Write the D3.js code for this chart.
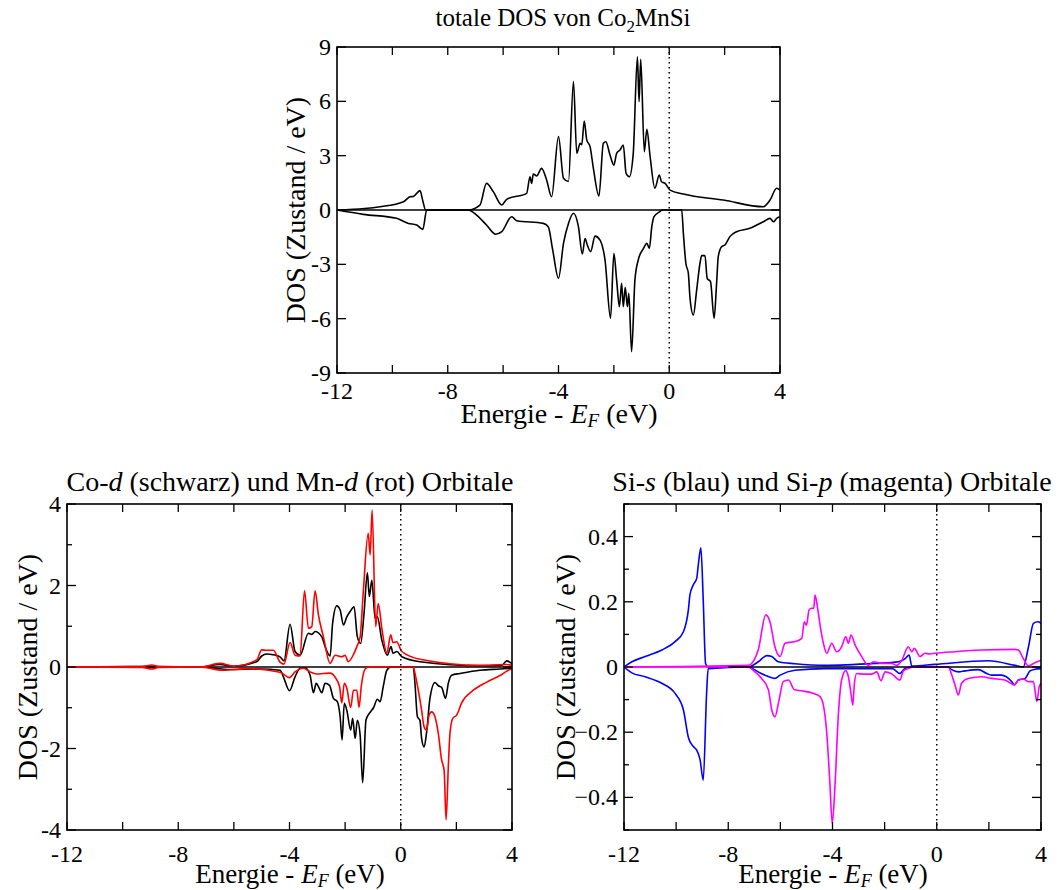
<!DOCTYPE html>
<html><head><meta charset="utf-8">
<script src="https://cdn.jsdelivr.net/npm/d3@7"></script>
<style>
body{margin:0;background:#fff;}
svg text{font-family:"Liberation Serif","Times New Roman",serif;fill:#000;}
</style></head>
<body><svg id="c" width="1063" height="890"></svg>
<script>
// ---------- DATA (energy in eV, DOS in states/eV) ----------
const totalUp = [[-12,0],[-11,0.08],[-10.45,0.18],[-9.6,0.46],[-9.36,0.73],[-9.24,0.75],[-9.0,1.07],[-8.9,0.5],[-8.8,0],[-7.26,0],[-6.84,0.27],[-6.6,1.47],[-6.35,1.0],[-6.05,0.28],[-5.87,0.59],[-5.15,0.92],[-5.03,1.84],[-4.97,1.47],[-4.91,1.99],[-4.79,1.88],[-4.61,2.3],[-4.43,1.66],[-4.25,0.73],[-4.0,4.05],[-3.82,1.75],[-3.64,1.57],[-3.46,7.09],[-3.34,3.13],[-3.22,3.68],[-3.16,3.6],[-3.07,4.91],[-2.98,3.87],[-2.86,3.5],[-2.74,2.3],[-2.54,0.77],[-2.38,3.68],[-2.29,3.77],[-2.14,3.04],[-2.0,2.48],[-1.9,3.13],[-1.78,3.31],[-1.66,3.59],[-1.56,2.03],[-1.44,1.84],[-1.3,3.13],[-1.15,8.46],[-1.09,5.98],[-1.03,8.32],[-0.9,3.22],[-0.81,4.46],[-0.69,2.94],[-0.52,1.2],[-0.36,1.93],[-0.28,1.56],[-0.15,1.47],[0.03,1.1],[0.51,0.88],[1.95,0.55],[3.4,0.18],[3.64,0.55],[3.88,1.2],[4.0,1.1]];
const totalDn = [[-12,0],[-11.05,-0.24],[-9.85,-0.46],[-9.42,-0.74],[-9.12,-0.83],[-8.9,-1.07],[-8.76,0],[-7.26,0],[-6.96,-0.28],[-6.6,-0.83],[-6.27,-1.34],[-6.05,-1.2],[-5.69,-0.37],[-5.51,-0.59],[-4.55,-0.74],[-4.37,-0.92],[-4.21,-2.2],[-4.0,-3.77],[-3.82,-1.84],[-3.64,-0.74],[-3.46,-0.18],[-3.28,-0.92],[-3.14,-2.43],[-3.04,-1.57],[-2.96,-1.93],[-2.84,-2.3],[-2.68,-1.44],[-2.5,-1.66],[-2.32,-2.76],[-2.12,-5.98],[-2.0,-2.39],[-1.9,-3.87],[-1.8,-5.34],[-1.72,-4.05],[-1.66,-5.34],[-1.59,-4.27],[-1.51,-5.34],[-1.46,-4.6],[-1.36,-7.82],[-1.24,-3.87],[-1.12,-2.76],[-0.93,-2.12],[-0.81,-1.84],[-0.72,-2.12],[-0.63,-0.92],[-0.55,-0.37],[-0.34,-0.09],[-0.25,0],[0.45,0],[0.51,-1.29],[0.6,-2.94],[0.69,-3.5],[0.75,-4.87],[0.87,-5.8],[0.99,-4.42],[1.11,-2.94],[1.17,-2.52],[1.29,-2.52],[1.37,-3.77],[1.49,-3.96],[1.62,-5.98],[1.71,-4.05],[1.77,-2.58],[1.89,-2.03],[2.01,-1.93],[2.19,-1.47],[2.43,-1.2],[2.91,-1.01],[3.16,-0.83],[3.4,-0.65],[3.64,-0.46],[3.76,-0.65],[3.88,-0.46],[4.0,-0.37]];

const coDUp = [[-12,0],[-9.0,0.01],[-7.2,0],[-6.5,0.06],[-6.02,0.02],[-5.18,0.13],[-5.0,0.27],[-4.82,0.32],[-4.58,0.3],[-4.34,0.25],[-4.2,0.15],[-3.98,1.05],[-3.8,0.38],[-3.62,0.29],[-3.32,0.83],[-3.2,0.8],[-3.08,0.87],[-2.84,0.74],[-2.72,0.5],[-2.54,0.27],[-2.45,1.07],[-2.3,1.5],[-2.18,1.4],[-2.06,1.03],[-1.94,1.23],[-1.82,1.36],[-1.68,1.48],[-1.56,0.74],[-1.44,0.58],[-1.32,1.32],[-1.2,2.31],[-1.13,1.73],[-1.04,2.13],[-0.92,1.19],[-0.84,1.23],[-0.68,0.66],[-0.48,0.29],[-0.35,0.5],[-0.28,0.34],[-0.14,0.38],[0.04,0.25],[0.69,0.13],[2.85,0.03],[3.63,0.04],[3.81,0.15],[4.0,0.08]];
const coDDn = [[-12,0],[-7.2,0],[-6.14,-0.06],[-5.06,-0.05],[-4.34,-0.08],[-4.22,-0.24],[-4.0,-0.58],[-3.8,-0.24],[-3.62,-0.03],[-3.44,-0.02],[-3.26,-0.2],[-3.14,-0.63],[-3.04,-0.4],[-2.96,-0.48],[-2.84,-0.63],[-2.72,-0.4],[-2.56,-0.45],[-2.42,-0.77],[-2.28,-0.85],[-2.18,-1.22],[-2.11,-1.79],[-2.03,-0.89],[-1.94,-1.06],[-1.8,-1.55],[-1.73,-1.26],[-1.64,-1.75],[-1.56,-1.31],[-1.46,-1.67],[-1.37,-2.84],[-1.25,-1.3],[-1.13,-1.14],[-0.98,-1.0],[-0.84,-0.79],[-0.74,-0.85],[-0.63,-0.48],[-0.5,-0.08],[-0.35,0],[0.45,0],[0.51,-0.4],[0.6,-1.22],[0.69,-1.31],[0.75,-1.75],[0.84,-1.96],[0.93,-1.6],[1.05,-0.77],[1.23,-0.38],[1.35,-0.46],[1.47,-0.5],[1.61,-0.77],[1.71,-0.4],[1.83,-0.2],[2.13,-0.16],[2.85,-0.08],[3.57,-0.05],[4.0,-0.03]];
const mnDUp = [[-12,0],[-9.3,0.01],[-8.95,0.05],[-8.7,0.01],[-7.2,0],[-6.5,0.09],[-6.02,0.02],[-5.18,0.17],[-5.0,0.42],[-4.82,0.41],[-4.58,0.41],[-4.34,0.12],[-4.2,0.07],[-3.98,0.6],[-3.8,0.29],[-3.62,0.27],[-3.46,1.87],[-3.32,0.95],[-3.2,0.99],[-3.08,1.87],[-2.96,1.28],[-2.78,0.74],[-2.54,0.09],[-2.36,0.29],[-2.12,0.25],[-2.0,0.29],[-1.89,0.13],[-1.71,0.29],[-1.58,0.5],[-1.46,0.74],[-1.35,1.81],[-1.17,3.28],[-1.1,2.75],[-1.03,3.85],[-0.9,0.99],[-0.81,1.56],[-0.68,0.95],[-0.5,0.34],[-0.36,0.79],[-0.28,0.6],[-0.15,0.62],[0.04,0.38],[0.69,0.19],[2.85,0.04],[3.81,0.06],[4.0,0.04]];
const mnDDn = [[-12,0],[-9.3,-0.01],[-8.95,-0.05],[-8.7,-0.01],[-7.2,0],[-6.4,-0.08],[-5.5,-0.04],[-4.34,-0.13],[-4.0,-0.26],[-3.8,-0.12],[-3.5,-0.03],[-3.26,-0.12],[-3.02,-0.17],[-2.78,-0.16],[-2.54,-0.15],[-2.36,-0.25],[-2.2,-0.48],[-2.12,-0.88],[-2.03,-0.4],[-1.94,-0.52],[-1.8,-0.99],[-1.7,-0.57],[-1.58,-0.57],[-1.5,-0.99],[-1.42,-0.48],[-1.28,-0.05],[-1.15,0],[0.45,0],[0.51,-0.15],[0.63,-0.57],[0.75,-1.06],[0.84,-1.47],[0.93,-1.55],[1.02,-1.18],[1.11,-1.1],[1.23,-1.22],[1.35,-1.63],[1.47,-2.28],[1.56,-2.54],[1.63,-3.75],[1.71,-2.45],[1.77,-1.63],[1.87,-1.26],[2.01,-1.18],[2.19,-0.88],[2.61,-0.57],[3.09,-0.37],[3.57,-0.21],[3.87,-0.08],[4.0,-0.05]];

const siSUp = [[-12,0],[-11.7,0.016],[-11.19,0.032],[-10.55,0.052],[-10.04,0.078],[-9.72,0.108],[-9.53,0.175],[-9.47,0.221],[-9.34,0.252],[-9.21,0.272],[-9.15,0.313],[-9.05,0.366],[-8.96,0.206],[-8.87,0.011],[-8.77,0],[-7.23,0],[-6.85,0.016],[-6.52,0.035],[-6.33,0.032],[-6.08,0.016],[-5.44,0.01],[-4.29,0.005],[-2.37,0.011],[-1.47,0.016],[-1.21,0.026],[-1.06,0.037],[-0.96,0.003],[-0.07,0.008],[1.98,0.019],[3.0,0.005],[3.32,0],[3.52,0.062],[3.71,0.134],[3.88,0.139],[4.0,0.134]];
const siSDn = [[-12,0],[-11.7,-0.018],[-11.19,-0.03],[-10.55,-0.05],[-10.04,-0.081],[-9.72,-0.132],[-9.53,-0.216],[-9.34,-0.244],[-9.21,-0.255],[-9.08,-0.285],[-8.96,-0.347],[-8.83,-0.08],[-8.77,-0.005],[-7.23,0],[-6.85,-0.015],[-6.59,-0.025],[-6.21,-0.035],[-6.01,-0.025],[-5.44,-0.01],[-4.29,-0.005],[-1.7,-0.005],[-1.41,-0.02],[-1.24,-0.005],[-1.0,0],[0.44,0],[0.57,-0.008],[0.83,-0.015],[1.08,-0.012],[1.6,-0.008],[1.92,-0.02],[2.1,-0.025],[2.48,-0.025],[2.88,-0.045],[2.98,-0.055],[3.13,-0.04],[3.39,-0.035],[3.58,-0.012],[3.77,-0.007],[4.0,-0.005]];
const siPUp = [[-12,0],[-7.23,0.005],[-6.85,0.052],[-6.56,0.16],[-6.4,0.139],[-6.21,0.062],[-6.01,0.032],[-5.82,0.073],[-5.44,0.078],[-5.18,0.088],[-5.08,0.139],[-5.0,0.128],[-4.9,0.175],[-4.8,0.18],[-4.72,0.18],[-4.67,0.221],[-4.57,0.18],[-4.48,0.13],[-4.35,0.073],[-4.22,0.042],[-4.03,0.073],[-3.84,0.047],[-3.65,0.062],[-3.49,0.093],[-3.39,0.073],[-3.29,0.098],[-3.13,0.067],[-2.88,0.032],[-2.62,0.005],[-2.43,0.016],[-2.11,0.011],[-1.73,0.011],[-1.54,0.005],[-1.34,0.021],[-1.09,0.062],[-0.96,0.047],[-0.86,0.057],[-0.64,0.032],[-0.45,0.042],[-0.26,0.04],[-0.07,0.042],[0.7,0.047],[1.73,0.052],[3.0,0.054],[3.13,0.052],[3.32,0.026],[3.52,0.003],[3.71,0.011],[4.0,0.021]];
const siPDn = [[-12,0],[-7.23,0],[-7.04,-0.01],[-6.72,-0.035],[-6.46,-0.07],[-6.33,-0.132],[-6.21,-0.153],[-6.05,-0.101],[-5.89,-0.045],[-5.69,-0.04],[-5.46,-0.07],[-5.18,-0.073],[-4.67,-0.083],[-4.48,-0.091],[-4.35,-0.117],[-4.22,-0.203],[-4.1,-0.357],[-4.01,-0.48],[-3.9,-0.357],[-3.78,-0.153],[-3.65,-0.04],[-3.49,-0.011],[-3.39,-0.03],[-3.29,-0.081],[-3.22,-0.117],[-3.16,-0.051],[-3.07,-0.02],[-2.82,-0.022],[-2.5,-0.022],[-2.3,-0.015],[-2.14,-0.042],[-1.98,-0.015],[-1.75,-0.02],[-1.41,-0.04],[-1.28,-0.012],[-1.09,-0.005],[-0.9,0],[0.44,0],[0.57,-0.023],[0.7,-0.055],[0.83,-0.086],[0.95,-0.05],[1.21,-0.035],[1.72,-0.03],[2.1,-0.035],[2.61,-0.04],[2.98,-0.055],[3.13,-0.041],[3.32,-0.037],[3.51,-0.045],[3.71,-0.045],[3.84,-0.106],[3.93,-0.061],[4.0,-0.05]];

const xTicks = [-12,-10,-8,-6,-4,-2,0,2,4];
const xTickLabels = [-12,-8,-4,0,4];
const topYTicks = [-9,-6,-3,0,3,6,9];
const leftYTicks = [-4,-3,-2,-1,0,1,2,3,4];
const leftYLabels = [-4,-2,0,2,4];
const rightYTicks = [-0.5,-0.4,-0.3,-0.2,-0.1,0,0.1,0.2,0.3,0.4,0.5];
const rightYLabels = [-0.4,-0.2,0,0.2,0.4];

// ---------- DRAWING ----------
const svg = d3.select("#c");
const TICKFS = 24;

function panel(opt){
  const g = svg.append("g");
  const x = d3.scaleLinear().domain([-12,4]).range([opt.x0, opt.x1]);
  const y = d3.scaleLinear().domain(opt.ydom).range([opt.y1, opt.y0]);
  const clipId = "clip"+opt.id;
  svg.append("clipPath").attr("id",clipId).append("rect")
    .attr("x",opt.x0).attr("y",opt.y0).attr("width",opt.x1-opt.x0).attr("height",opt.y1-opt.y0);
  const pg = g.append("g").attr("clip-path",`url(#${clipId})`);
  const line = d3.line().x(d=>x(d[0])).y(d=>y(d[1])).curve(d3.curveMonotoneX);
  const zl = ()=>pg.append("line").attr("x1",x(opt.zeroFrom)).attr("x2",x(4)).attr("y1",y(0)).attr("y2",y(0))
      .attr("stroke","#000").attr("stroke-width",1.5);
  if(!opt.zeroOnTop) zl();
  opt.series.forEach(s=>{
    pg.append("path").datum(s.data).attr("d",line).attr("fill","none")
      .attr("stroke",s.color).attr("stroke-width",1.6).attr("stroke-linejoin","round");
  });
  if(opt.zeroOnTop) zl();
  // Fermi level dotted
  pg.append("line").attr("x1",x(0)).attr("x2",x(0)).attr("y1",opt.y0).attr("y2",opt.y1)
    .attr("stroke","#000").attr("stroke-width",1.5).attr("stroke-dasharray","1.5,3.5");
  // frame
  g.append("rect").attr("x",opt.x0).attr("y",opt.y0).attr("width",opt.x1-opt.x0).attr("height",opt.y1-opt.y0)
    .attr("fill","none").attr("stroke","#000").attr("stroke-width",1.6);
  // x ticks (inward, bottom & top)
  xTicks.forEach(t=>{
    const L = 8;
    g.append("line").attr("x1",x(t)).attr("x2",x(t)).attr("y1",opt.y1).attr("y2",opt.y1-L).attr("stroke","#000").attr("stroke-width",1.3);
    g.append("line").attr("x1",x(t)).attr("x2",x(t)).attr("y1",opt.y0).attr("y2",opt.y0+L).attr("stroke","#000").attr("stroke-width",1.3);
  });
  xTickLabels.forEach(t=>{
    g.append("text").attr("x",x(t)).attr("y",opt.y1+opt.tickDy).attr("text-anchor","middle")
      .attr("font-size",TICKFS).text(t);
  });
  // y ticks
  opt.yTicks.forEach(t=>{
    const major = opt.yLabels.some(v=>Math.abs(v-t)<1e-9) || opt.allMajor;
    const L = major ? 9 : 5;
    g.append("line").attr("x1",opt.x0).attr("x2",opt.x0+L).attr("y1",y(t)).attr("y2",y(t)).attr("stroke","#000").attr("stroke-width",1.3);
    g.append("line").attr("x1",opt.x1).attr("x2",opt.x1-L).attr("y1",y(t)).attr("y2",y(t)).attr("stroke","#000").attr("stroke-width",1.3);
  });
  opt.yLabels.forEach(t=>{
    g.append("text").attr("x",opt.x0-6).attr("y",y(t)+8).attr("text-anchor","end")
      .attr("font-size",TICKFS).text(opt.fmt(t));
  });
  // x axis label
  const sub = Math.round(opt.lfs*0.68);
  const xl = g.append("text").attr("x",opt.xlx).attr("y",opt.y1+opt.labDy).attr("text-anchor","middle").attr("font-size",opt.lfs);
  xl.append("tspan").text("Energie - ");
  xl.append("tspan").attr("font-style","italic").text("E");
  xl.append("tspan").attr("font-style","italic").attr("font-size",sub).attr("dy",4).text("F");
  xl.append("tspan").attr("dy",-4).text(" (eV)");
  // y axis label
  g.append("text").attr("transform",`translate(${opt.ylx},${(opt.y0+opt.y1)/2}) rotate(-90)`)
    .attr("text-anchor","middle").attr("font-size",28).text("DOS (Zustand / eV)");
  // title
  const tt = g.append("text").attr("x",opt.tx).attr("y",opt.ty).attr("text-anchor","middle").attr("font-size",opt.tfs);
  opt.title.forEach(p=>{
    const ts = tt.append("tspan").text(p.t);
    if(p.i) ts.attr("font-style","italic");
    if(p.sub) ts.attr("font-size",Math.round(opt.tfs*0.68)).attr("dy",6);
    if(p.up) ts.attr("dy",-6);
  });
}

panel({id:"t", x0:337, x1:780, y0:47, y1:373, ydom:[-9,9], yTicks:topYTicks, yLabels:topYTicks, allMajor:true,
  fmt:d=>d, ylx:305, tx:563, ty:26, tfs:25, xlx:559, tickDy:26, labDy:50, lfs:28, zeroFrom:-12, zeroOnTop:false,
  title:[{t:"totale DOS von Co"},{t:"2",sub:true},{t:"MnSi",up:true}],
  series:[{data:totalUp,color:"#000"},{data:totalDn,color:"#000"}]});

panel({id:"l", x0:67, x1:512, y0:504, y1:830, ydom:[-4,4], yTicks:leftYTicks, yLabels:leftYLabels,
  fmt:d=>d, ylx:37, tx:290, ty:491, tfs:28, xlx:290, tickDy:32, labDy:53, lfs:27, zeroFrom:-12, zeroOnTop:false,
  title:[{t:"Co-"},{t:"d",i:true},{t:" (schwarz) und Mn-"},{t:"d",i:true},{t:" (rot) Orbitale"}],
  series:[{data:coDUp,color:"#000"},{data:coDDn,color:"#000"},{data:mnDUp,color:"#ff0000"},{data:mnDDn,color:"#ff0000"}]});

panel({id:"r", x0:624, x1:1041, y0:504, y1:830, ydom:[-0.5,0.5], yTicks:rightYTicks, yLabels:rightYLabels,
  fmt:d=>d===0?"0":d3.format(".1f")(d), ylx:575, tx:832, ty:491, tfs:28, xlx:833, tickDy:32, labDy:53, lfs:27, zeroFrom:-8, zeroOnTop:true,
  title:[{t:"Si-"},{t:"s",i:true},{t:" (blau) und Si-"},{t:"p",i:true},{t:" (magenta) Orbitale"}],
  series:[{data:siSUp,color:"#0000ff"},{data:siSDn,color:"#0000ff"},{data:siPUp,color:"#ff00ff"},{data:siPDn,color:"#ff00ff"}]});
</script></body></html>
